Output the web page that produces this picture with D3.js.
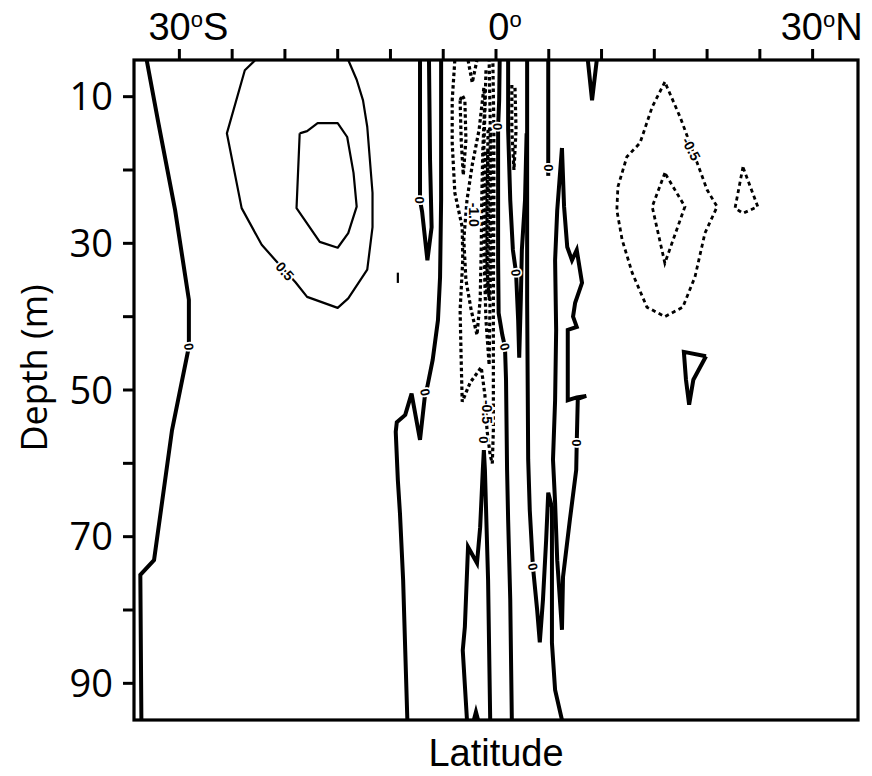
<!DOCTYPE html>
<html>
<head>
<meta charset="utf-8">
<title></title>
<style>
  body { margin: 0; background: #fff; }
</style>
</head>
<body>
<svg id="chart" width="872" height="776"></svg>
<script src="https://d3js.org/d3.v7.min.js"></script>
<script>
// ---- axes ----
const latTicks = [-30, -25, -20, -15, -10, -5, 0, 5, 10, 15, 20, 25, 30];
const latLabels = [[-30, "30", "S"], [0, "0", ""], [30, "30", "N"]];
const depthTicks = [10, 20, 30, 40, 50, 60, 70, 80, 90];
const depthLabels = [10, 30, 50, 70, 90];

// ---- zero contours (thick solid), [lat, depth] ----
const zeroA = [[-33.1,5],[-32.0,13.5],[-30.4,25.5],[-29.1,37.7],[-29.1,44.1],[-30.7,55.5],[-32.4,73.2],[-33.7,75.2],[-33.6,95]];
const zeroL = [[-7.2,5],[-7.2,23.1],[-7.2,24.1],[-7.0,25.7],[-6.5,32.3],[-6.1,27.8],[-6.25,18.6],[-6.35,5]];
const zeroC = [[-5.2,5],[-5.2,24.1],[-5.3,34.6],[-5.5,40.5],[-6.0,45.9],[-6.5,49.5],[-6.7,50.3],[-7.2,56.8],[-8.0,50.5],[-8.6,53.4],[-9.4,54.4],[-9.5,55.7],[-9.3,62.3],[-9.1,66.8],[-8.8,75.9],[-8.6,85.5],[-8.4,95]];
const zeroE = [[0.35,5],[0.3,10.5],[0.2,14.1],[0.2,24.1],[0.2,32.3],[0.25,39.5],[0.6,42.5],[0.85,44.1],[0.95,48.6],[1.05,60.9],[1.15,67.7],[1.35,78.6],[1.5,95]];
const zeroK = [[1.15,5],[1.15,14.5],[1.35,24.1],[1.6,30.9],[1.9,34],[2.1,40.5],[2.2,45.6],[2.35,37.7],[2.45,30.9],[2.75,24.1],[2.9,15]];
const zeroH = [[2.95,5],[2.95,37.7],[3.05,59.5],[3.2,66.4],[3.5,74.1],[3.9,80],[4.15,84.4],[4.45,78.6],[4.75,70.5],[4.95,64],[5.3,66],[5.3,78.6],[5.3,84.5],[5.6,90.9],[6.25,95]];
const zeroI = [[6.25,17],[6.45,25],[6.75,30.5],[7.2,32.3],[7.65,30.9],[8.15,35.4],[7.5,38.1],[7.3,40],[7.65,41.4],[6.8,41.8],[6.8,51.4],[7.65,51],[8.55,50.8],[7.75,51.2],[7.65,57.2],[7.6,60.9],[7.0,67.7],[6.35,75.5],[6.25,82.7],[5.8,73.2],[5.6,65.4],[5.4,59.5],[5.6,51.4],[5.7,41.8],[5.6,32.3],[5.8,25.5],[6.25,17]];
const zeroJ = [[4.95,5],[4.95,20.8]];
const zeroFG = [[-2.75,95],[-3.15,85.5],[-2.95,82.3],[-2.65,71.4],[-1.8,73.6],[-1.5,68.7],[-1.25,60.9],[-1.15,58.2],[-1.05,60.9],[-0.75,75.9],[-0.55,95]];
const zeroBump = [[-2.1,95],[-1.9,93.9],[-1.7,95]];
const zeroV = [[8.7,5],[9.1,10.5],[9.55,5]];
const zeroTri = [[19.9,45.4],[17.8,44.8],[18.0,48.6],[18.3,52],[18.7,48.6],[19.9,45.4]];

// ---- positive contours (thin solid) ----
const pos05 = [[-22.8,5],[-23.8,6.4],[-25.5,15],[-24.1,25.2],[-22.2,30.2],[-20.9,32.3],[-19.0,35.3],[-17.9,37.3],[-15.0,38.8],[-14.0,37.5],[-12.2,33.6],[-11.7,27.8],[-11.7,23.1],[-12.2,14.1],[-12.6,10.5],[-13.2,7.7],[-14.0,5]];
const pos10 = [[-18.6,15],[-17.9,14.7],[-16.9,13.6],[-15.0,13.6],[-14.1,15.5],[-13.5,20.4],[-13.2,25],[-14.0,28.6],[-15.0,30.6],[-16.7,29.8],[-18.9,25.2],[-18.6,15]];
const posTick = [[-9.3,34.0],[-9.3,35.4]];

// ---- negative contours (dashed) ----
const negOuter = [[-3.9,5],[-4.15,10.5],[-4.15,16.3],[-3.9,23.1],[-3.2,27.8],[-3.15,32.3],[-3.4,39.1],[-3.3,45.9],[-3.2,51.6],[-2.45,49],[-1.4,46.9],[-1.05,50.7],[-0.85,55.5],[-0.55,58.9],[-0.35,60],[-0.25,55.5],[-0.25,48.6],[-0.25,37.7],[-0.2,24.1],[-0.2,14.5],[-0.3,5]];
const negTopV = [[-2.65,5],[-2.25,8.1],[-1.8,5]];
const negTongue = [[-3.4,10.5],[-3.3,15.9],[-3.1,20.7],[-2.85,15.9],[-2.95,10.5],[-3.2,9.8],[-3.4,10.5]];
const neg10 = [[-1.15,8.8],[-1.6,14.5],[-2.25,19.3],[-2.75,24.1],[-3.05,29.5],[-2.85,35],[-2.35,39.1],[-1.8,42.5],[-1.5,37.7],[-1.4,30.9],[-1.35,24.1],[-1.25,17.3],[-1.05,10.5],[-1.15,8.8]];
const neg15 = [[-0.95,6.4],[-1.15,17.3],[-1.15,30.9],[-0.95,40.5],[-0.65,46.6],[-0.55,36.4],[-0.55,24.1],[-0.55,13.2],[-0.65,5]];
const neg20 = [[-0.75,14.5],[-0.85,24.1],[-0.85,33.6],[-0.65,37.7],[-0.4,30.9],[-0.4,21.4],[-0.5,14.5],[-0.75,14.5]];
const neg25 = [[-1.0,17.5],[-1.0,26],[-1.0,34],[-0.9,37],[-0.75,34],[-0.7,26],[-0.75,17.5],[-1.0,17.5]];
const negRight = [[1.5,8.4],[1.5,14.5],[1.7,20],[1.9,14.5],[1.8,8.8]];
const negN05 = [[16.0,8],[14.8,11.4],[13.65,16.3],[12.4,18.2],[11.55,22.3],[11.45,25.5],[11.95,29.5],[12.9,34],[14.3,38.7],[16.0,40],[17.7,38.7],[18.85,34.6],[19.8,28.6],[20.95,25],[20.0,22.7],[18.85,18.2],[17.45,12.8],[16.0,8]];
const negN10 = [[16,20.4],[14.8,25],[16,32.7],[17.9,25],[16,20.4]];
const negN3 = [[23.4,19.6],[22.65,25.2],[23.4,25.9],[24.8,25],[23.4,19.6]];

// ---- contour labels: [text, lat, depth, angle] ----
const zeroLabelPts = [
  ["0", -29.1, 44.1, 85], ["0", -7.2, 24.1, 90], ["0", -6.7, 50.3, 80],
  ["0", 0.2, 14.1, 90], ["0", 0.85, 44.1, 75], ["0", 1.9, 34, 85],
  ["0", 4.95, 19.7, 90], ["0", -1.2, 56.8, 90], ["0", 3.5, 74.1, 80],
  ["0", 7.65, 57.2, 90]
];
const valueLabelPts = [
  ["0.5", -20.0, 33.8, 48], ["-0.5", 18.5, 17.1, 62],
  ["-1.0", -2.1, 26.1, 90], ["-0.5", -0.85, 53.0, 90]
];

const zeroLines = [zeroA, zeroL, zeroC, zeroE, zeroK, zeroH, zeroI, zeroJ, zeroFG, zeroBump, zeroV, zeroTri];
const posLines = [pos05, pos10, posTick];
const negCentral = [negOuter, negTopV, negTongue, neg10, neg15, neg20, neg25, negRight];
const negNorth = [negN05, negN10, negN3];

const margin = {left: 134, right: 858, top: 60, bottom: 720};
const svg = d3.select("#chart");

const x = d3.scaleLinear().domain([-34.3, 34.3]).range([margin.left, margin.right]);
const y = d3.scaleLinear().domain([5, 95]).range([margin.top, margin.bottom]);

svg.append("defs").append("clipPath").attr("id", "plot")
  .append("rect")
  .attr("x", margin.left).attr("y", margin.top)
  .attr("width", margin.right - margin.left).attr("height", margin.bottom - margin.top);

const line = d3.line().x(d => x(d[0])).y(d => y(d[1]));
const g = svg.append("g").attr("clip-path", "url(#plot)");

g.append("g").selectAll("path").data(posLines).join("path")
  .attr("d", line).attr("fill", "none").attr("stroke", "#000")
  .attr("stroke-width", 2.2).attr("stroke-linejoin", "round");

g.append("g").selectAll("path").data(negCentral).join("path")
  .attr("d", line).attr("fill", "none").attr("stroke", "#000")
  .attr("stroke-width", 3.2).attr("stroke-dasharray", "3.5,2.8");

g.append("g").selectAll("path").data(negNorth).join("path")
  .attr("d", line).attr("fill", "none").attr("stroke", "#000")
  .attr("stroke-width", 2.8).attr("stroke-dasharray", "4,3.5");

g.append("g").selectAll("path").data(zeroLines).join("path")
  .attr("d", line).attr("fill", "none").attr("stroke", "#000")
  .attr("stroke-width", 4).attr("stroke-linejoin", "miter");

// contour labels
const lab = svg.append("g")
  .style("font-family", "'Liberation Sans', Arial, sans-serif")
  .style("font-weight", "bold");

lab.selectAll("text.z").data(zeroLabelPts).join("text").attr("class", "z")
  .attr("transform", d => `translate(${x(d[1])},${y(d[2])}) rotate(${d[3]})`)
  .attr("text-anchor", "middle").attr("dy", "0.36em")
  .style("font-size", "13px")
  .attr("stroke", "#fff").attr("stroke-width", 3.5).attr("paint-order", "stroke")
  .text(d => d[0]);

lab.selectAll("text.v").data(valueLabelPts).join("text").attr("class", "v")
  .attr("transform", d => `translate(${x(d[1])},${y(d[2])}) rotate(${d[3]})`)
  .attr("text-anchor", "middle").attr("dy", "0.36em")
  .style("font-size", "14px")
  .attr("stroke", "#fff").attr("stroke-width", 3.5).attr("paint-order", "stroke")
  .text(d => d[0]);

// frame
svg.append("rect")
  .attr("x", margin.left).attr("y", margin.top)
  .attr("width", margin.right - margin.left).attr("height", margin.bottom - margin.top)
  .attr("fill", "none").attr("stroke", "#000").attr("stroke-width", 3.2);

// top ticks
svg.append("g").selectAll("line").data(latTicks).join("line")
  .attr("x1", d => x(d)).attr("x2", d => x(d))
  .attr("y1", margin.top).attr("y2", margin.top - 11)
  .attr("stroke", "#000").attr("stroke-width", 3);

const xl = svg.append("g")
  .style("font-family", "'Liberation Sans', Arial, sans-serif")
  .style("font-size", "38px");
xl.selectAll("text").data(latLabels).join("text")
  .attr("x", d => x(d[0]) + 9).attr("y", 40)
  .attr("text-anchor", "middle")
  .each(function(d) {
    const t = d3.select(this);
    t.append("tspan").text(d[1]);
    t.append("tspan").attr("dy", -13).style("font-size", "22px").text("o");
    t.append("tspan").attr("dy", 13).text(d[2]);
  });

// left ticks
svg.append("g").selectAll("line").data(depthTicks).join("line")
  .attr("x1", margin.left).attr("x2", margin.left - 11)
  .attr("y1", d => y(d)).attr("y2", d => y(d))
  .attr("stroke", "#000").attr("stroke-width", 3);

svg.append("g")
  .style("font-family", "'Open Sans', sans-serif")
  .style("font-size", "38px")
  .selectAll("text").data(depthLabels).join("text")
  .attr("x", 113).attr("y", d => y(d)).attr("dy", "0.36em")
  .attr("text-anchor", "end")
  .text(d => d);

svg.append("text")
  .attr("transform", "translate(47,368) rotate(-90)")
  .attr("text-anchor", "middle")
  .style("font-family", "'Open Sans', sans-serif")
  .style("font-size", "36px")
  .text("Depth (m)");

svg.append("text")
  .attr("x", 496).attr("y", 766)
  .attr("text-anchor", "middle")
  .style("font-family", "'Liberation Sans', Arial, sans-serif")
  .style("font-size", "38px")
  .text("Latitude");
</script>
</body>
</html>
